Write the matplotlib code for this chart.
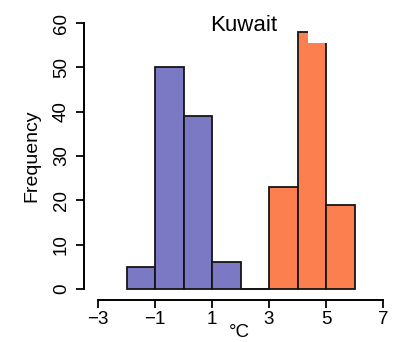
import matplotlib
matplotlib.use("Agg")
import matplotlib.pyplot as plt
from matplotlib.patches import Rectangle

# Histogram bins (left edges, width 1 °C) and counts
bin_edges = [-2, -1, 0, 1, 2, 3, 4, 5, 6]
counts = [5, 50, 39, 6, 0, 23, 58, 19]
groups = ["cool", "cool", "cool", "cool", "cool", "warm", "warm", "warm"]
colors = {"cool": "#7b79c3", "warm": "#fb7f4f"}

x_ticks = [-3, -1, 1, 3, 5, 7]
y_ticks = [0, 10, 20, 30, 40, 50, 60]

plt.rcParams["font.family"] = ["Liberation Sans", "DejaVu Sans"]

fig = plt.figure(figsize=(3.96, 3.42), dpi=100)
ax = fig.add_axes([0.2115, 0.124, 0.7845, 0.8398])

lefts = bin_edges[:-1]
widths = [b - a for a, b in zip(bin_edges[:-1], bin_edges[1:])]
for left, w, c, g in zip(lefts, widths, counts, groups):
    ax.bar(left, c, width=w, align="edge", color=colors[g],
           edgecolor="#151515", linewidth=1.3, zorder=2)
    if c == 0:
        ax.plot([left, left + w], [0, 0], color="#151515", lw=1.3, zorder=2)

# white cover over the top corner of the tallest bar
ax.add_patch(Rectangle((4.37, 55.5), 0.75, 6, facecolor="white",
                       edgecolor="none", zorder=5))

ax.set_xlim(-3.5, 7.4)
ax.set_ylim(-2.4, 62.4)

for s in ("top", "right"):
    ax.spines[s].set_visible(False)
ax.spines["left"].set_bounds(0, 60)
ax.spines["bottom"].set_bounds(-3, 7)
ax.spines["left"].set_linewidth(1.4)
ax.spines["bottom"].set_linewidth(1.4)

ax.set_xticks(x_ticks)
ax.set_xticklabels([str(t).replace("-", "\u2212") for t in x_ticks])
ax.set_yticks(y_ticks)
ax.set_yticklabels([str(t) for t in y_ticks], rotation=90, va="center")
ax.tick_params(axis="both", length=6, width=1.4, labelsize=13.5,
               direction="out", color="#151515")
ax.tick_params(axis="y", pad=4)
ax.tick_params(axis="x", pad=2)

ax.set_ylabel("Frequency", fontsize=14, labelpad=9)
ax.set_xlabel("\u00b0C", fontsize=13.5, labelpad=-3)

fig.text(0.616, 0.925, "Kuwait", fontsize=16, ha="center", va="center")

fig.savefig("out.png", dpi=100, facecolor="white")
